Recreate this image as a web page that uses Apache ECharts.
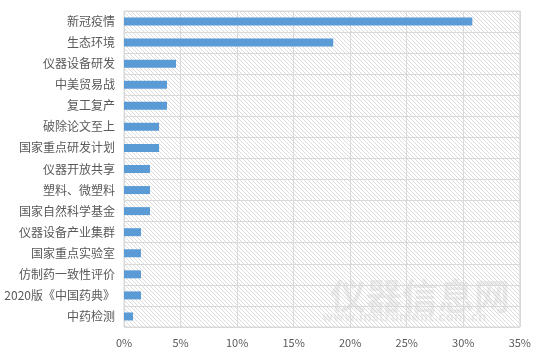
<!DOCTYPE html>
<html><head><meta charset="utf-8">
<script src="https://cdn.jsdelivr.net/npm/echarts@6/dist/echarts.min.js"></script>
<style>html,body{margin:0;padding:0;background:#fff}#c{width:534px;height:354px}</style>
</head><body><div id="c"></div>
<script>
const categories = ['新冠疫情','生态环境','仪器设备研发','中美贸易战','复工复产','破除论文至上','国家重点研发计划','仪器开放共享','塑料、微塑料','国家自然科学基金','仪器设备产业集群','国家重点实验室','仿制药一致性评价','2020版《中国药典》','中药检测'];
const values = [30.8,18.5,4.6,3.8,3.8,3.1,3.1,2.3,2.3,2.3,1.5,1.5,1.5,1.5,0.8];
const xTicks = [0,5,10,15,20,25,30,35];

const pc = document.createElement('canvas');
pc.width = 4; pc.height = 4;
const g = pc.getContext('2d');
g.fillStyle = '#ffffff'; g.fillRect(0,0,4,4);
g.strokeStyle = '#dcdcdc'; g.lineWidth = 1;
g.beginPath(); g.moveTo(-1,-1); g.lineTo(5,5); g.moveTo(-1,3); g.lineTo(1,5); g.moveTo(3,-1); g.lineTo(5,1); g.stroke();

const chart = echarts.init(document.getElementById('c'));
chart.setOption({
  animation:false,
  grid:{left:124,right:14,top:11,bottom:27,show:true,backgroundColor:{image:pc,repeat:'repeat'},borderColor:'#d9d9d9',borderWidth:1},
  xAxis:{type:'value',min:xTicks[0],max:xTicks[xTicks.length-1],interval:5,
    axisLabel:{formatter:'{value}%',color:'#595959',fontSize:11,fontFamily:'Noto Sans CJK SC',margin:10},
    axisLine:{show:false},axisTick:{show:false},
    splitLine:{lineStyle:{color:'#d9d9d9'}}},
  yAxis:{type:'category',data:categories,inverse:true,
    axisLabel:{color:'#595959',fontSize:12,fontFamily:'Noto Sans CJK SC',margin:9},
    axisLine:{show:true,lineStyle:{color:'#d9d9d9'}},axisTick:{show:false},
    splitLine:{show:true,lineStyle:{color:'#d9d9d9'}}},
  series:[{type:'bar',data:values,barWidth:8,itemStyle:{color:'#5b9bd5'}}],
  graphic:[{type:'text',left:330,top:278,silent:true,style:{text:'仪器信息网',fill:'rgba(200,200,200,0.35)',font:'bold 36px "Noto Sans CJK SC"'}},
    {type:'text',left:322,top:312,silent:true,style:{text:'www.instrument.com.cn',fill:'rgba(200,200,200,0.35)',font:'bold 12px "DejaVu Sans"'}}]
});
</script></body></html>
